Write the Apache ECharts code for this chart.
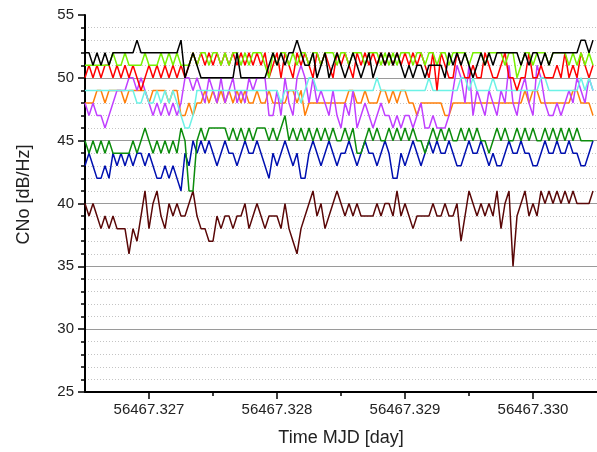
<!DOCTYPE html>
<html><head><meta charset="utf-8">
<script src="https://cdn.jsdelivr.net/npm/echarts@6/dist/echarts.min.js"></script>
<style>html,body{margin:0;padding:0;background:#fff}#c{width:597px;height:452px}</style>
</head><body><div id="c"></div>
<script>
// Sampling grid (MJD, days)
const tStart = 56467.3265;
const tStep = 0.00003125;
const xMin = 56467.3265, xMax = 56467.3305;
const xTickValues = [56467.327, 56467.328, 56467.329, 56467.330];
const xMinorTickValues = [56467.3275, 56467.3285, 56467.3295];

// CNo values [dB/Hz] per satellite
const cnoBlack = [52,52,51,52,51,52,51,52,52,52,52,52,52,53,52,52,
 52,52,52,52,52,52,52,52,53,50,51,52,51,50,50,50,
 50,50,50,50,50,50,52,50,50,50,50,50,50,50,51,52,
 51,52,51,52,52,53,52,51,51,52,50,51,52,50,51,52,
 51,50,51,52,51,50,51,52,50,51,52,51,52,51,52,51,
 50,51,50,51,51,50,51,51,51,51,50,52,51,52,51,52,
 51,50,51,52,51,52,51,52,52,52,52,52,52,51,52,51,
 52,52,51,52,51,52,52,52,52,52,52,52,53,53,52,53];
const cnoLime = [51,51,51,51,51,51,51,52,51,51,52,51,51,51,51,52,
 51,51,51,52,51,52,51,52,51,51,51,52,51,52,52,51,
 52,52,51,52,51,52,52,51,52,51,52,52,52,51,50,52,
 51,52,52,51,52,51,52,52,51,52,52,51,52,52,52,51,
 52,52,51,52,52,52,51,52,52,52,51,52,51,52,51,52,
 52,52,51,52,52,51,52,52,51,52,52,51,52,52,52,52,
 51,52,52,52,51,52,52,52,52,51,52,52,50,51,52,52,
 51,52,52,52,51,52,52,52,52,51,52,51,52,51,52,51];
const cnoRed = [50,51,50,51,50,51,51,50,51,50,51,50,51,50,49,50,
 51,50,51,50,51,50,51,50,51,50,51,52,51,52,51,52,
 51,52,51,52,51,52,51,52,51,52,51,52,51,52,50,51,
 52,50,52,51,50,52,51,52,51,50,52,51,52,51,50,52,
 51,52,51,50,52,51,52,51,52,51,52,51,52,51,52,51,
 52,51,52,51,52,51,50,52,49,52,51,50,50,52,51,50,
 50,51,50,50,52,51,50,50,51,52,50,50,49,50,50,52,
 50,50,51,50,50,50,51,50,52,50,51,50,52,51,50,51];
const cnoCyan = [49,49,49,49,49,49,49,49,49,49,49,49,49,48,48,49,
 48,48,49,48,49,48,49,48,47,46,46,47,49,49,49,49,
 49,49,49,49,49,49,49,49,49,49,49,49,49,49,49,49,
 49,48,49,49,49,49,48,49,50,50,49,49,49,49,49,49,
 49,49,49,49,49,49,49,49,49,50,49,49,49,49,49,49,
 49,49,49,49,49,49,50,49,49,49,49,49,49,49,50,50,
 49,50,49,49,49,49,50,49,49,49,49,49,49,49,49,49,
 49,49,50,50,49,49,49,49,49,49,49,49,50,49,50,49];
const cnoOrange = [48,48,48,49,49,48,49,49,49,49,48,49,49,49,49,49,
 48,49,49,49,49,48,49,49,47,47,48,47,48,48,49,48,
 49,48,49,48,49,48,49,48,49,48,48,49,48,48,49,48,
 48,48,48,49,49,48,49,47,48,48,48,48,48,48,48,48,
 48,48,49,49,48,48,49,48,48,48,49,49,48,49,48,49,
 49,48,48,47,48,48,48,48,48,48,47,47,48,48,48,48,
 48,48,48,48,48,48,48,48,48,48,48,48,48,48,49,48,
 49,49,48,48,48,48,48,48,48,48,49,49,48,48,48,47];
const cnoViolet = [48,47,48,47,47,46,47,48,49,49,49,50,50,49,50,49,
 48,47,48,47,48,47,48,47,48,50,50,49,50,49,48,50,
 49,48,50,48,49,50,48,49,48,50,49,50,50,50,47,47,
 49,47,50,48,47,50,51,50,48,50,48,49,48,47,49,47,
 46,48,47,49,46,47,48,47,46,47,48,47,47,46,47,46,
 47,47,46,47,48,46,46,47,46,46,46,47,49,51,50,48,
 51,47,49,48,47,49,48,47,49,48,51,48,47,49,50,48,
 47,51,50,48,47,47,48,47,48,49,48,50,49,48,50,49];
const cnoGreen = [45,44,45,44,45,44,45,44,44,44,44,44,45,44,45,46,
 45,44,45,44,45,44,45,44,46,45,41,41,45,46,45,46,
 46,46,46,46,45,46,45,46,45,46,45,46,46,46,45,46,
 45,46,47,45,46,45,46,45,46,45,46,45,46,45,46,45,
 45,46,45,46,44,44,45,46,45,46,45,45,46,45,46,45,
 46,45,46,45,45,44,45,46,45,46,45,46,45,45,46,45,
 46,45,46,45,45,44,45,46,45,46,45,45,46,45,46,45,
 46,45,45,46,45,46,45,46,45,46,45,46,45,45,45,45];
const cnoBlue = [43,44,43,42,42,43,42,44,43,44,43,44,43,44,44,43,
 44,43,42,42,43,42,43,42,41,44,43,45,44,45,44,45,
 44,43,44,45,44,44,43,44,45,44,44,45,44,43,42,44,
 43,44,45,44,43,44,42,42,44,45,44,43,44,45,44,43,
 44,44,45,44,43,44,45,44,44,43,44,45,44,42,42,44,
 43,44,45,44,43,44,45,44,45,44,44,45,44,43,43,44,
 45,44,44,45,44,43,44,43,43,44,45,44,44,45,44,44,
 43,43,44,45,44,44,45,44,44,45,44,44,43,43,44,45];
const cnoBrown = [40,39,40,39,38,39,38,39,38,38,38,36,38,37,39,41,
 38,40,41,39,38,40,39,40,39,39,40,41,39,38,38,37,
 37,39,38,39,39,38,39,39,40,38,39,40,39,38,39,39,
 39,38,40,38,37,36,38,39,40,41,39,40,38,39,40,41,
 40,39,40,39,40,39,39,39,39,40,39,40,40,39,41,39,
 40,39,38,39,39,39,39,40,39,39,40,39,39,40,37,39,
 41,40,39,40,39,40,39,41,38,40,41,35,39,40,41,39,
 40,39,41,40,41,40,41,40,41,40,41,40,40,40,40,41];

const seriesDefs = [
  {name:'brown', values:cnoBrown, color:'#5a0808'},
  {name:'blue', values:cnoBlue, color:'#0010b0'},
  {name:'green', values:cnoGreen, color:'#0c8c0c'},
  {name:'orange', values:cnoOrange, color:'#ff7f0a'},
  {name:'violet', values:cnoViolet, color:'#c040ff'},
  {name:'cyan', values:cnoCyan, color:'#6cf2e6'},
  {name:'red', values:cnoRed, color:'#ff0000'},
  {name:'lime', values:cnoLime, color:'#78f000'},
  {name:'black', values:cnoBlack, color:'#000000'}
];

const font = 'Liberation Sans, Arial, sans-serif';
const chart = echarts.init(document.getElementById('c'), null, {renderer:'canvas'});
chart.setOption({
  animation:false,
  backgroundColor:'#fff',
  grid:{left:85, right:0, top:15, bottom:60, containLabel:false},
  xAxis:[{
    type:'value', min:xMin, max:xMax, position:'bottom',
    axisLine:{show:true, onZero:false, lineStyle:{color:'#000', width:2}},
    axisTick:{show:true, customValues:xTickValues, length:7, lineStyle:{color:'#000', width:1.5}},
    axisLabel:{customValues:xTickValues, formatter:v=>v.toFixed(3), fontSize:15, color:'#222', margin:10, fontFamily:font},
    splitLine:{show:false},
    name:'Time MJD [day]', nameLocation:'middle', nameGap:37,
    nameTextStyle:{fontSize:18, color:'#222', fontFamily:font}
  },{
    type:'value', min:xMin, max:xMax, position:'bottom',
    axisLine:{show:false},
    axisTick:{show:true, customValues:xMinorTickValues, length:4, lineStyle:{color:'#000', width:1.5}},
    axisLabel:{show:false},
    splitLine:{show:false}
  }],
  yAxis:{
    type:'value', min:25, max:55, interval:5,
    axisLine:{show:true, onZero:false, lineStyle:{color:'#000', width:2}},
    axisTick:{show:true, length:7, lineStyle:{color:'#000', width:1.5}},
    minorTick:{show:true, splitNumber:5, length:4, lineStyle:{color:'#000', width:1.5}},
    axisLabel:{fontSize:15, color:'#222', margin:11, fontFamily:font},
    splitLine:{show:true, showMaxLine:false, lineStyle:{color:'#9a9a9a', width:1}},
    minorSplitLine:{show:true, lineStyle:{color:'#c4c4c4', width:1, type:[1,2]}},
    name:'CNo [dB/Hz]', nameLocation:'middle', nameGap:52,
    nameTextStyle:{fontSize:18, color:'#222', fontFamily:font, padding:[0,0,0,18]}
  },
  series: seriesDefs.map(d=>({
    type:'line', name:d.name, xAxisIndex:0, yAxisIndex:0,
    showSymbol:false, symbol:'none',
    lineStyle:{color:d.color, width:1.5},
    itemStyle:{color:d.color},
    data:d.values.map((v,i)=>[tStart + i*tStep, v])
  }))
});
</script>
</body></html>
